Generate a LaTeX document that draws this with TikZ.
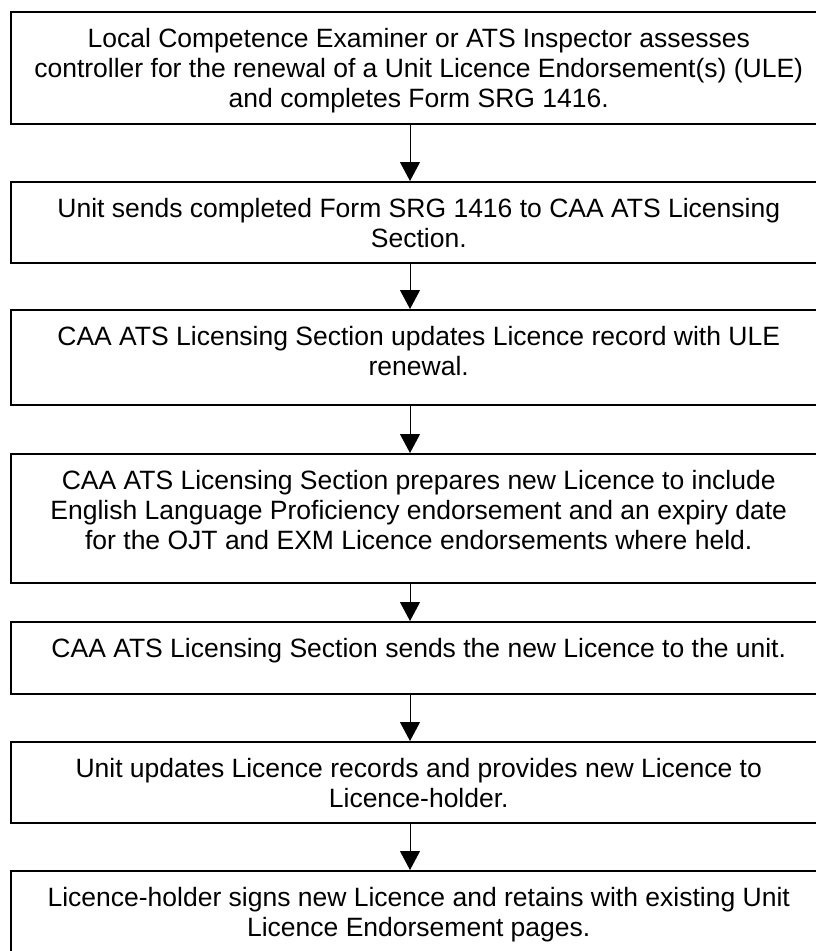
\documentclass[tikz,border=0pt]{standalone}
\usepackage{fontspec}
\setmainfont{Liberation Sans}
\usepackage{xcolor}
\usetikzlibrary{arrows.meta}
\newcommand{\boxtxt}[2]{\parbox[c][#1pt][t]{816pt}{\centering\rule{0pt}{36pt}#2}}

\begin{document}
\begin{tikzpicture}[x=1pt, y=-1pt]
    % Styles
    \tikzstyle{stepbox} = [rectangle, draw=black, line width=1.5pt, inner sep=0pt, anchor=north west, font=\fontsize{26.5}{30}\selectfont]
    \tikzstyle{arrow} = [line width=1pt, -{Triangle[width=20pt, length=19pt]}]

    \useasboundingbox (0,0) rectangle (816,951);
    \clip (0,0) rectangle (816,951);
    \coordinate (axis) at (410,0);

    % Nodes - using absolute positioning
    \node[stepbox] (assess) at (10,11) {\boxtxt{112}{Local Competence Examiner or ATS Inspector assesses\\controller for the renewal of a Unit Licence Endorsement(s) (ULE)\\and completes Form SRG 1416.}};
    \node[stepbox] (send) at (10,181) {\boxtxt{81}{Unit sends completed Form SRG 1416 to CAA ATS Licensing\\Section.}};
    \node[stepbox] (update) at (10,309) {\boxtxt{95}{CAA ATS Licensing Section updates Licence record with ULE\\renewal.}};
    \node[stepbox] (prepare) at (10,453) {\boxtxt{129}{CAA ATS Licensing Section prepares new Licence to include\\English Language Proficiency endorsement and an expiry date\\for the OJT and EXM Licence endorsements where held.}};
    \node[stepbox] (issue) at (10,621) {\boxtxt{72}{CAA ATS Licensing Section sends the new Licence to the unit.}};
    \node[stepbox] (unitrec) at (10,741) {\boxtxt{81}{Unit updates Licence records and provides new Licence to\\Licence-holder.}};
    \node[stepbox] (sign) at (10,870) {\boxtxt{83}{Licence-holder signs new Licence and retains with existing Unit\\Licence Endorsement pages.}};

    % Arrows
    \draw[arrow] (assess.south -| axis) -- (send.north -| axis);
    \draw[arrow] (send.south -| axis) -- (update.north -| axis);
    \draw[arrow] (update.south -| axis) -- (prepare.north -| axis);
    \draw[arrow] (prepare.south -| axis) -- (issue.north -| axis);
    \draw[arrow] (issue.south -| axis) -- (unitrec.north -| axis);
    \draw[arrow] (unitrec.south -| axis) -- (sign.north -| axis);
\end{tikzpicture}
\end{document}
